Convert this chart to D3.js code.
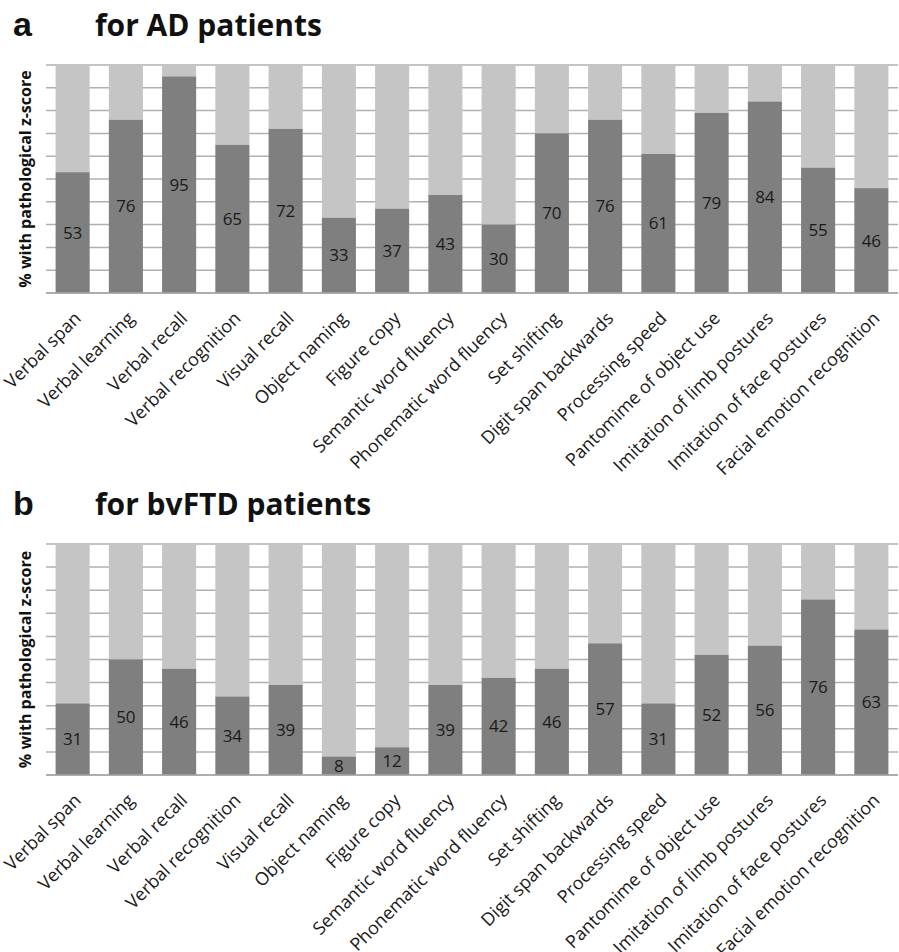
<!DOCTYPE html>
<html>
<head>
<meta charset="utf-8">
<script src="https://cdn.jsdelivr.net/npm/d3@7"></script>
<style>
  body { margin: 0; background: #fff; }
  text { font-family: "Open Sans", Lato, sans-serif; }
</style>
</head>
<body>
<div id="chart"></div>
<script>
// ---------------------------//
//            DATA            //
// ---------------------------//

var categories = [
  "Verbal span", "Verbal learning", "Verbal recall", "Verbal recognition",
  "Visual recall", "Object naming", "Figure copy", "Semantic word fluency",
  "Phonematic word fluency", "Set shifting", "Digit span backwards",
  "Processing speed", "Pantomime of object use", "Imitation of limb postures",
  "Imitation of face postures", "Facial emotion recognition"
];

var adValues  = [53, 76, 95, 65, 72, 33, 37, 43, 30, 70, 76, 61, 79, 84, 55, 46];
var ftdValues = [31, 50, 46, 34, 39, 8, 12, 39, 42, 46, 57, 31, 52, 56, 76, 63];

var gridTicks = [0, 10, 20, 30, 40, 50, 60, 70, 80, 90, 100];

var panels = [
  { letter: "a", title: "for AD patients", values: adValues, top: 65, bottom: 293, titleY: 36 },
  { letter: "b", title: "for bvFTD patients", values: ftdValues, top: 544, bottom: 775, titleY: 515 }
];

// ---------------------------//
//         DIMENSIONS         //
// ---------------------------//

var width = 899;
var height = 952;
var margin = { left: 46, right: 1 };

var darkColor = "#7f7f7f";
var lightColor = "#c4c5c4";
var gridColor = "#b0b0b0";

var svg = d3.select("#chart")
  .append("svg")
  .attr("width", width)
  .attr("height", height)
  .attr("viewBox", [0, 0, width, height]);

var x = d3.scaleBand()
  .domain(categories)
  .range([margin.left, width - margin.right])
  .paddingInner(0.36)
  .paddingOuter(0.18);

panels.forEach(function(p) {

  var y = d3.scaleLinear()
    .domain([0, 100])
    .range([p.bottom, p.top]);

  var g = svg.append("g");

  // letter + title
  g.append("text")
    .attr("x", 13)
    .attr("y", p.titleY)
    .style("font-family", "'Liberation Sans', Arial, sans-serif")
    .style("font-weight", "bold")
    .style("font-size", "34px")
    .style("fill", "#111")
    .text(p.letter);

  g.append("text")
    .attr("x", 95)
    .attr("y", p.titleY)
    .style("font-weight", "bold")
    .style("font-size", "30px")
    .style("fill", "#111")
    .text(p.title);

  // y axis title
  g.append("text")
    .attr("transform", "translate(31," + ((p.top + p.bottom) / 2) + ") rotate(-90)")
    .attr("text-anchor", "middle")
    .style("font-weight", "bold")
    .style("font-size", "16px")
    .style("fill", "#111")
    .text("% with pathological z-score");

  // gridlines
  g.append("g")
    .selectAll("line")
    .data(gridTicks)
    .enter()
    .append("line")
    .attr("x1", margin.left)
    .attr("x2", width - margin.right)
    .attr("y1", d => y(d))
    .attr("y2", d => y(d))
    .attr("stroke", gridColor)
    .attr("stroke-width", 1.5);

  // light part (rest up to 100)
  g.append("g")
    .selectAll("rect")
    .data(p.values)
    .enter()
    .append("rect")
    .attr("x", (d, i) => x(categories[i]))
    .attr("width", x.bandwidth())
    .attr("y", y(100))
    .attr("height", d => y(d) - y(100))
    .attr("fill", lightColor);

  // dark part
  g.append("g")
    .selectAll("rect")
    .data(p.values)
    .enter()
    .append("rect")
    .attr("x", (d, i) => x(categories[i]))
    .attr("width", x.bandwidth())
    .attr("y", d => y(d))
    .attr("height", d => y(0) - y(d))
    .attr("fill", darkColor);

  // bottom axis line
  g.append("line")
    .attr("x1", margin.left)
    .attr("x2", width - margin.right)
    .attr("y1", y(0))
    .attr("y2", y(0))
    .attr("stroke", "#a6a6a6")
    .attr("stroke-width", 1.5);

  // value labels in the middle of the dark bar
  g.append("g")
    .selectAll("text")
    .data(p.values)
    .enter()
    .append("text")
    .attr("x", (d, i) => x(categories[i]) + x.bandwidth() / 2)
    .attr("y", d => (y(d) + y(0)) / 2)
    .attr("dy", "0.35em")
    .attr("text-anchor", "middle")
    .style("font-size", "17px")
    .style("fill", "#1a1a1a")
    .text(d => d);

  // category labels
  g.append("g")
    .selectAll("text")
    .data(categories)
    .enter()
    .append("text")
    .attr("transform", d => "translate(" + (x(d) + x.bandwidth() / 2 + 5) + "," + (y(0) + 22) + ") rotate(-45)")
    .attr("text-anchor", "end")
    .attr("dy", "0.35em")
    .style("font-size", "18px")
    .style("fill", "#1a1a1a")
    .text(d => d);
});
</script>
</body>
</html>
